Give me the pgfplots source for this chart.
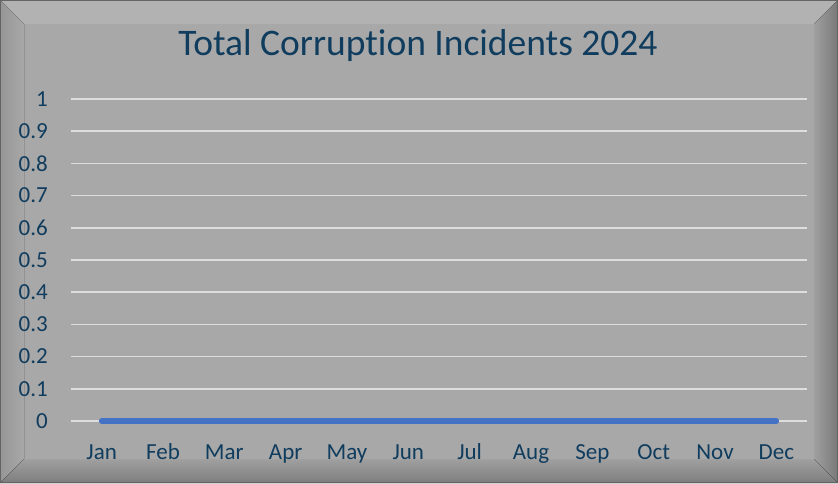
\documentclass[border=0pt]{standalone}
\usepackage{pgfplots}
\pgfplotsset{compat=1.18}
\usepackage{fontspec}
\setmainfont{Carlito}[Ligatures=NoCommon]
\definecolor{txt}{RGB}{16,60,94}
\definecolor{face}{RGB}{168,168,168}
\definecolor{topb}{RGB}{178,178,178}
\definecolor{leftb}{RGB}{150,150,150}
\definecolor{botb}{RGB}{125,125,125}
\definecolor{rightb}{RGB}{120,120,120}
\definecolor{edge}{RGB}{100,100,100}
\definecolor{grid}{RGB}{222,222,222}
\definecolor{line}{RGB}{68,114,196}
\begin{document}
\begin{tikzpicture}[x=1pt,y=1pt]
\useasboundingbox (0,0) rectangle (838,483);
\fill[face] (0,0) rectangle (838,483);
% bevels
\fill[topb] (0,483) -- (838,483) -- (814,459) -- (24,459) -- cycle;
\fill[left color=leftb, right color=face] (0,0) -- (0,483) -- (24,459) -- (24,24) -- cycle;
\fill[top color=face!95!black, bottom color=botb] (0,0) -- (838,0) -- (814,24) -- (24,24) -- cycle;
\fill[left color=face!95!black, right color=rightb] (838,0) -- (838,483) -- (814,459) -- (814,24) -- cycle;
\draw[edge, line width=1.2pt] (0.6,0.6) rectangle (837.4,482.4);
\node[txt, font=\fontsize{37.5}{44}\selectfont, anchor=base] at (418,427) {Total Corruption Incidents 2024};
\begin{axis}[
  at={(71pt,62pt)}, anchor=south west,
  scale only axis, width=736pt, height=322pt,
  xmin=-0.5, xmax=11.5, ymin=0, ymax=1,
  axis line style={draw=none},
  major tick length=0pt, tick style={draw=none},
  xtick={0,...,11},
  xticklabels={Jan,Feb,Mar,Apr,May,Jun,Jul,Aug,Sep,Oct,Nov,Dec},
  ytick={0,0.1,...,1.0},
  yticklabel={\pgfmathprintnumber[fixed,precision=1]{\tick}},
  /pgf/number format/assume math mode=true,
  xmajorgrids=false, ymajorgrids=true,
  y grid style={grid, line width=1.6pt},
  ticklabel style={txt, font=\fontsize{23}{27}\selectfont, inner sep=0pt},
  yticklabel style={anchor=east, xshift=-23pt},
  xticklabel style={anchor=base, yshift=-38pt},
  clip=false,
]
\addplot[line, line width=5.5pt, line cap=round] coordinates {
(0,0) (1,0) (2,0) (3,0) (4,0) (5,0) (6,0) (7,0) (8,0) (9,0) (10,0) (11,0)};
\end{axis}
\end{tikzpicture}
\end{document}
